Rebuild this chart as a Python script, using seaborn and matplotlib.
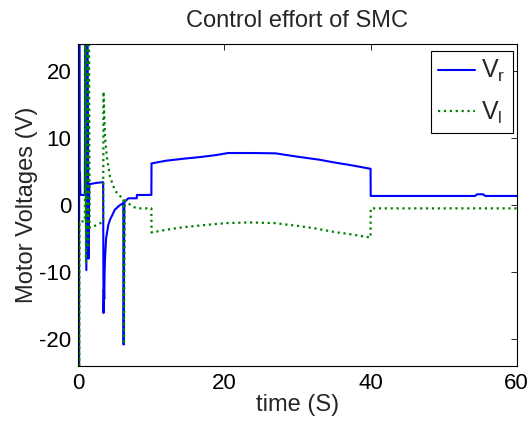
import numpy as np
import pandas as pd
import matplotlib
matplotlib.use("Agg")
import matplotlib.pyplot as plt
import seaborn as sns

# V_r (blue, solid): tiempo (s) y voltaje (V)
t_r = [0.05, 0.1, 0.13, 0.17, 0.22, 0.28, 0.9, 0.95, 1.1, 1.25, 1.4, 1.5, 2.5, 3.4,
       3.45, 3.5, 3.55, 3.6, 3.65, 3.8, 4.1, 4.34, 5.0, 5.6, 6.16, 6.2, 6.3,
       6.84, 8.0, 8.02, 10.0, 10.02, 12.0, 14.4, 16.7, 18.9, 20.5, 24.0, 27.0,
       30.0, 33.0, 35.0, 37.5, 40.0, 40.02, 54.3, 54.6, 55.4, 55.7, 60.0]
v_r = [30, -30, 30, 1.5, 4.8, 1.5, 1.5, 30, -9.7, 30, -8.0, 3.1, 3.3, 3.4,
       -16.1, -12.6, -14.0, -10.0, -8.2, -5.0, -3.0, -2.2, -0.7, -0.1, 0.3, -20.8, 0.4,
       1.0, 1.0, 1.5, 1.5, 6.2, 6.6, 6.9, 7.15, 7.45, 7.75, 7.75, 7.7,
       7.2, 6.75, 6.35, 5.9, 5.4, 1.35, 1.35, 1.6, 1.6, 1.35, 1.35]

# V_l (green, dotted)
t_l = [0.08, 0.12, 0.16, 0.9, 0.95, 1.05, 1.2, 1.35, 1.45, 1.55, 2.5, 3.4,
       3.45, 3.65, 3.9, 4.34, 5.0, 5.6, 6.16, 6.25, 6.35, 6.84, 7.5, 8.0,
       10.0, 10.02, 12.0, 14.4, 16.7, 20.1, 23.5, 26.9, 30.3, 32.5, 34.9, 37.5,
       40.0, 40.02, 60.0]
v_l = [-2.5, -30, -2.5, -2.4, 30, -8.5, 30, -6.4, 30, -3.4, -3.0, -2.5,
       16.9, 10.2, 7.2, 4.2, 2.2, 1.4, 1.0, -20.8, 0.7, 0.25, -0.25, -0.5,
       -0.5, -4.1, -3.7, -3.3, -3.05, -2.7, -2.6, -2.7, -3.15, -3.5, -4.0, -4.4,
       -4.85, -0.5, -0.5]

x_ticks = [0, 20, 40, 60]
y_ticks = [-20, -10, 0, 10, 20]

sns.set_theme(style="white")
plt.rcParams['font.family'] = ['Liberation Sans', 'DejaVu Sans']
plt.rcParams['mathtext.fontset'] = 'custom'
plt.rcParams['mathtext.rm'] = 'Liberation Sans'
plt.rcParams['axes.unicode_minus'] = False

fig = plt.figure(figsize=(5.32, 4.21), dpi=100)
ax = fig.add_axes([0.1472, 0.1306, 0.8240, 0.7649])

df_r = pd.DataFrame({"t": t_r, "v": v_r})
df_l = pd.DataFrame({"t": t_l, "v": v_l})

sns.lineplot(data=df_r, x="t", y="v", estimator=None, sort=False, ax=ax,
             color="#0000ff", linewidth=1.5, label=r"$\mathregular{V_r}$")
sns.lineplot(data=df_l, x="t", y="v", estimator=None, sort=False, ax=ax,
             color="#008000", linewidth=1.6, linestyle=":",
             label=r"$\mathregular{V_l}$")

ax.set_xlim(0, 60)
ax.set_ylim(-24, 24)
ax.set_xticks(x_ticks)
ax.set_yticks(y_ticks)
ax.tick_params(direction="in", top=True, right=True, length=4, width=0.6,
               labelsize=16, colors="black", pad=5)
for s in ax.spines.values():
    s.set_color("black")
    s.set_linewidth(0.8)

ax.set_title("Control effort of SMC", fontsize=17, pad=12)
ax.set_xlabel("time (S)", fontsize=17, labelpad=0)
ax.set_ylabel("Motor Voltages (V)", fontsize=17, labelpad=1)

leg = ax.legend(loc="upper left", bbox_to_anchor=(0.804, 0.979), fontsize=18,
                frameon=True, fancybox=False, framealpha=1, edgecolor="black",
                handlelength=1.45, handletextpad=0.25, borderpad=0.3,
                labelspacing=0.6, borderaxespad=0)
leg.get_frame().set_linewidth(0.8)

plt.savefig("out.png", dpi=100)
